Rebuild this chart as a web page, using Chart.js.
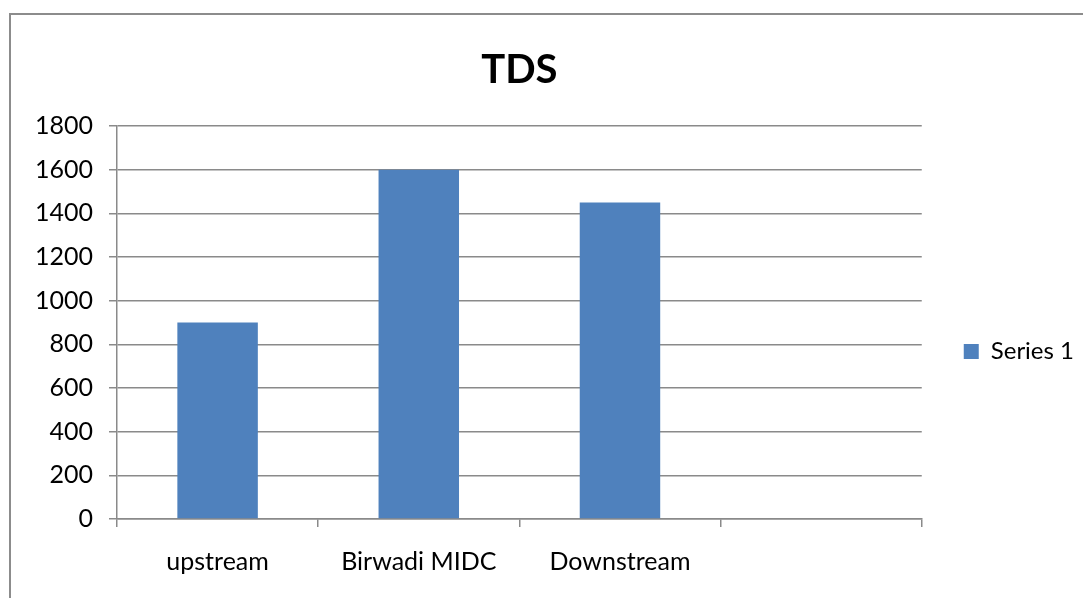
<!DOCTYPE html>
<html>
<head>
<meta charset="utf-8">
<script src="https://cdn.jsdelivr.net/npm/chart.js@4.4.0/dist/chart.umd.min.js"></script>
<style>
  html, body { margin: 0; padding: 0; background: #fff; }
  #wrap { position: relative; width: 1083px; height: 598px; overflow: hidden; }
  #frame { position: absolute; left: 9px; top: 13px; width: 1200px; height: 700px;
           border-left: 2px solid #8c8c8c; border-top: 2px solid #8c8c8c; }
  canvas { position: absolute; left: 0; top: 0; }
</style>
</head>
<body>
<div id="wrap">
  <div id="frame"></div>
  <canvas id="tdsChart" width="1083" height="598" style="width:1083px;height:598px"></canvas>
</div>
<script>
const categories = ['upstream', 'Birwadi MIDC', 'Downstream', ''];
const series1 = [900, 1600, 1450, null];
const yMin = 0;
const yMax = 1800;
const yStep = 200;

const GRID = '#8a8a8a';
const FONT = 'Lato';

const ctx = document.getElementById('tdsChart').getContext('2d');
window.tdsChart = new Chart(ctx, {
  type: 'bar',
  data: {
    labels: categories,
    datasets: [
      { label: 'Series 1', data: series1, backgroundColor: '#4F81BD',
        categoryPercentage: 1, barPercentage: 0.4 }
    ]
  },
  options: {
    responsive: false,
    devicePixelRatio: 1,
    animation: false,
    layout: { padding: { left: 0, right: -1, top: 0, bottom: 20 } },
    plugins: {
      title: {
        display: true, text: 'TDS', color: '#000', fullSize: false,
        font: { family: FONT, size: 40, weight: 'bold' },
        padding: { top: 46, bottom: 32 }
      },
      legend: {
        position: 'right',
        fullSize: false,
        // blank legend title only pushes the entry down a bit
        title: { display: true, text: ' ', font: { size: 10 }, padding: 23 },
        labels: {
          color: '#000', boxWidth: 15, boxHeight: 15, padding: 42,
          font: { family: FONT, size: 24 }
        }
      },
      tooltip: { enabled: false }
    },
    scales: {
      x: {
        afterFit(scale) { scale.height = 59; },
        grid: { offset: true, drawOnChartArea: false, drawTicks: true, tickLength: 8, color: GRID, lineWidth: 1.5 },
        border: { display: true, color: GRID, width: 1.5 },
        ticks: { color: '#000', padding: 20, maxRotation: 0, autoSkip: false,
                 font: { family: FONT, size: 25 } }
      },
      y: {
        min: yMin, max: yMax,
        afterFit(scale) { scale.width = 117; },
        grid: { color: GRID, lineWidth: 1.5, drawTicks: true, tickLength: 8 },
        border: { display: true, color: GRID, width: 1.5 },
        ticks: { stepSize: yStep, color: '#000', padding: 16,
                 font: { family: FONT, size: 25 },
                 callback: (v) => String(v) }
      }
    }
  }
});
</script>
</body>
</html>
